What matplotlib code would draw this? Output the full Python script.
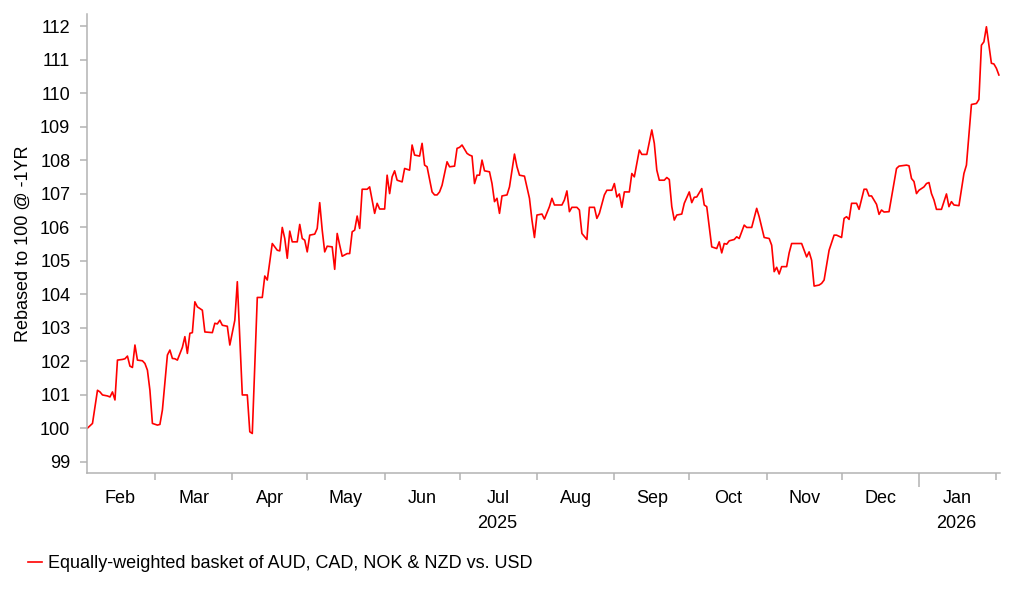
import matplotlib.pyplot as plt
import matplotlib.transforms as mtransforms
import pandas as pd

plt.rcParams['font.family'] = ['Liberation Sans', 'DejaVu Sans']

# days after 1 Feb 2025
day_offset = [
    1, 3, 5, 6, 7, 9, 10, 11, 12, 13, 15, 16, 17, 18, 19, 20, 21, 23, 24, 25,
    26, 27, 29, 30, 31, 33, 34, 35, 36, 37, 39, 40, 41, 42, 43, 44, 45, 47, 48, 51,
    52, 53, 54, 55, 57, 58, 60, 61, 63, 65, 66, 67, 68, 69, 71, 72, 73, 75, 77, 78,
    79, 80, 81, 82, 83, 85, 86, 87, 88, 89, 90, 92, 93, 94, 95, 96, 97, 99, 100, 101,
    102, 103, 105, 106, 107, 108, 109, 110, 111, 113, 114, 115, 116, 117, 118, 120, 121, 122, 123, 124,
    125, 127, 128, 130, 131, 132, 134, 135, 136, 137, 139, 140, 141, 142, 143, 145, 146, 148, 149, 150,
    151, 153, 154, 155, 156, 157, 158, 159, 160, 162, 163, 164, 165, 166, 167, 169, 170, 172, 173, 174,
    176, 178, 179, 180, 181, 183, 184, 186, 187, 188, 191, 192, 193, 194, 195, 197, 198, 199, 201, 202,
    204, 205, 206, 208, 209, 211, 212, 213, 214, 215, 216, 218, 219, 220, 221, 222, 223, 225, 227, 228,
    229, 230, 232, 233, 234, 235, 236, 237, 239, 240, 242, 243, 244, 245, 247, 248, 249, 251, 253, 254,
    255, 256, 257, 258, 260, 261, 262, 264, 265, 267, 269, 270, 272, 274, 275, 276, 277, 278, 279, 281,
    282, 283, 287, 289, 290, 291, 292, 294, 295, 296, 298, 300, 301, 303, 304, 305, 306, 307, 309, 310,
    312, 313, 314, 315, 317, 318, 319, 320, 322, 325, 326, 329, 330, 331, 332, 333, 334, 336, 337, 338,
    339, 340, 341, 343, 345, 346, 347, 348, 350, 352, 353, 355, 357, 358, 359, 360, 361, 363, 364, 365,
    366,
]
basket = [
    100.0, 100.14, 101.13, 101.08, 100.99, 100.96, 100.93, 101.08, 100.84, 102.03,
    102.05, 102.07, 102.15, 101.85, 101.81, 102.48, 102.03, 102.01, 101.93, 101.73,
    101.13, 100.14, 100.09, 100.11, 100.54, 102.18, 102.33, 102.08, 102.07, 102.03,
    102.41, 102.73, 102.23, 102.83, 102.85, 103.77, 103.62, 103.52, 102.87, 102.85,
    103.13, 103.11, 103.22, 103.07, 103.04, 102.48, 103.22, 104.37, 100.99, 100.99,
    99.89, 99.84, 101.83, 103.9, 103.9, 104.54, 104.42, 105.51, 105.31, 105.29,
    105.99, 105.66, 105.07, 105.88, 105.56, 105.56, 106.08, 105.66, 105.61, 105.26,
    105.76, 105.79, 105.96, 106.73, 105.91, 105.26, 105.43, 105.41, 104.74, 105.81,
    105.46, 105.13, 105.21, 105.21, 105.86, 105.91, 106.33, 105.96, 107.13, 107.13,
    107.2, 106.81, 106.41, 106.71, 106.54, 106.54, 107.55, 107.0, 107.5, 107.68,
    107.4, 107.35, 107.75, 107.7, 108.45, 108.15, 108.12, 108.5, 107.85, 107.8,
    107.05, 106.96, 106.96, 107.05, 107.25, 107.95, 107.8, 107.82, 108.35, 108.38,
    108.45, 108.2, 108.15, 108.12, 107.3, 107.55, 107.55, 108.0, 107.68, 107.65,
    107.3, 106.76, 106.86, 106.41, 106.93, 106.96, 107.2, 108.18, 107.8, 107.55,
    107.52, 106.86, 106.21, 105.69, 106.36, 106.39, 106.24, 106.61, 106.86, 106.66,
    106.66, 106.81, 107.08, 106.46, 106.59, 106.59, 106.51, 105.81, 105.63, 106.59,
    106.59, 106.26, 106.41, 106.96, 107.1, 107.1, 107.3, 106.9, 106.99, 106.59,
    107.05, 107.05, 107.6, 107.5, 107.9, 108.3, 108.17, 108.17, 108.9, 108.5,
    107.7, 107.4, 107.4, 107.48, 107.42, 106.61, 106.21, 106.36, 106.39, 106.71,
    107.05, 106.73, 106.89, 106.9, 107.15, 106.66, 106.61, 105.41, 105.36, 105.56,
    105.23, 105.51, 105.49, 105.59, 105.63, 105.71, 105.66, 106.06, 105.99, 105.99,
    106.56, 106.31, 105.69, 105.66, 105.46, 104.67, 104.8, 104.6, 104.82, 104.82,
    105.23, 105.51, 105.51, 105.11, 105.26, 105.01, 104.24, 104.27, 104.32, 104.42,
    105.31, 105.76, 105.76, 105.69, 106.26, 106.31, 106.23, 106.71, 106.71, 106.53,
    107.13, 107.13, 106.93, 106.93, 106.68, 106.38, 106.51, 106.45, 106.46, 107.75,
    107.82, 107.85, 107.83, 107.45, 107.36, 107.0, 107.1, 107.2, 107.3, 107.33,
    107.0, 106.81, 106.53, 106.53, 106.99, 106.61, 106.76, 106.66, 106.64, 107.6,
    107.85, 109.66, 109.69, 109.81, 111.43, 111.53, 111.98, 110.89, 110.87, 110.74,
    110.54,
]
month_labels = ['Feb', 'Mar', 'Apr', 'May', 'Jun', 'Jul', 'Aug', 'Sep', 'Oct',
                'Nov', 'Dec', 'Jan']
year_labels = {'2025-07-16': '2025', '2026-01-16': '2026'}
series_name = 'Equally-weighted basket of AUD, CAD, NOK & NZD vs. USD'

start = pd.Timestamp('2025-02-01')
dates = start + pd.to_timedelta(day_offset, unit='D')

grey = '#b3b3b3'
fs = 13
fig = plt.figure(figsize=(10.22, 5.97), dpi=100)
ax = fig.add_axes([0.0851, 0.2077, 0.8929, 0.7688])

ax.plot(dates, basket, color='#ff0000', lw=1.2, label=series_name)

ax.set_ylim(98.66, 112.36)
ax.set_yticks(range(99, 113))
ax.set_xlim(start + pd.Timedelta(hours=19), pd.Timestamp('2026-02-02 06:00'))

# month boundaries as minor ticks, labels centred mid-month
month_starts = pd.date_range('2025-03-01', '2026-02-01', freq='MS')
ax.set_xticks(month_starts, minor=True)
firsts = pd.date_range('2025-02-01', '2026-01-01', freq='MS')
mids = firsts + (firsts + pd.offsets.MonthBegin(1) - firsts) / 2
ax.set_xticks(mids)
ax.set_xticklabels(month_labels)

ax.tick_params(axis='x', which='major', length=0, pad=12, labelsize=fs)
ax.tick_params(axis='x', which='minor', length=5, width=1.1, color=grey)
ax.tick_params(axis='y', length=5, width=1.1, color=grey, pad=7, labelsize=fs)

# longer tick at the year boundary
jan1 = pd.Timestamp('2026-01-01')
for t, loc in zip(ax.xaxis.get_minor_ticks(), month_starts):
    if loc == jan1:
        t.tick1line.set_markersize(10)

trans = mtransforms.blended_transform_factory(ax.transData, ax.transAxes)
for d, txt in year_labels.items():
    ax.text(pd.Timestamp(d), -0.11, txt, transform=trans, ha='center',
            va='center', fontsize=fs)

for side in ['top', 'right']:
    ax.spines[side].set_visible(False)
for side in ['left', 'bottom']:
    ax.spines[side].set_color(grey)
    ax.spines[side].set_linewidth(1.1)

ax.set_ylabel('Rebased to 100 @ -1YR', fontsize=fs, labelpad=6)

fig.legend(loc='center left', bbox_to_anchor=(0.0274, 1 - 564 / 597),
           frameon=False, handlelength=0.8, handletextpad=0.3, fontsize=fs,
           borderaxespad=0, borderpad=0)

fig.savefig('out.png', dpi=100, facecolor='white')
